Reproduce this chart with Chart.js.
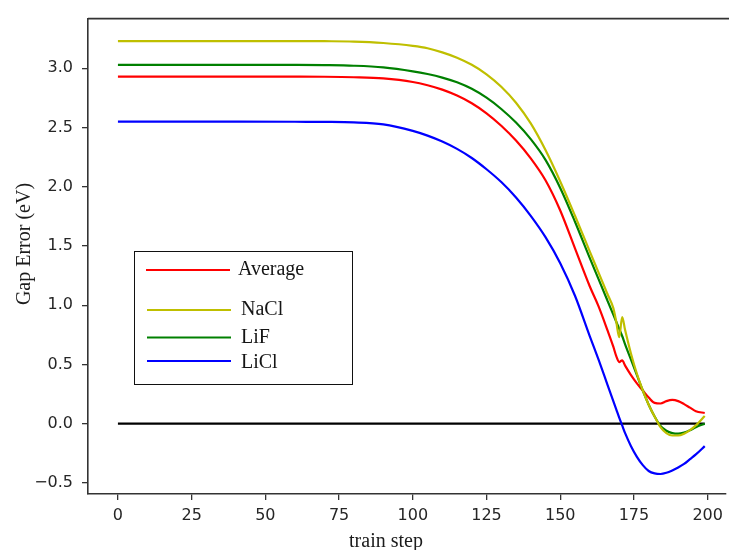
<!DOCTYPE html>
<html>
<head>
<meta charset="utf-8">
<script src="https://cdn.jsdelivr.net/npm/chart.js@4.4.0/dist/chart.umd.min.js"></script>
<style>
  html, body { margin: 0; padding: 0; background: #fff; }
  #wrap { width: 729px; height: 550px; }
</style>
</head>
<body>
<div id="wrap"><canvas id="gapChart" width="729" height="550"></canvas></div>
<script>
"use strict";

const steps = [
  0, 20, 40, 60, 70, 80, 90, 100,
  105, 110, 115, 120, 125, 130, 135, 140, 145, 150,
  155, 160, 163, 166, 168, 169, 170, 171, 172,
  174, 176, 178, 180, 182, 184, 186, 188, 190, 192, 194, 196, 199,
];

const averageGap = [
  2.93, 2.93, 2.93, 2.93, 2.929, 2.925, 2.915, 2.885,
  2.857, 2.82, 2.77, 2.705, 2.62, 2.515, 2.39, 2.24, 2.055, 1.80,
  1.48, 1.16, 0.99, 0.79, 0.65, 0.57, 0.52, 0.535, 0.49,
  0.41, 0.34, 0.28, 0.22, 0.175, 0.17, 0.19, 0.20, 0.19, 0.165, 0.135, 0.105, 0.09,
];
const naclGap = [
  3.23, 3.23, 3.23, 3.23, 3.229, 3.226, 3.214, 3.19,
  3.17, 3.135, 3.09, 3.03, 2.95, 2.845, 2.71, 2.535, 2.31, 2.045,
  1.755, 1.455, 1.275, 1.095, 0.975, 0.86, 0.73, 0.90, 0.79,
  0.59, 0.42, 0.28, 0.16, 0.06, -0.03, -0.08, -0.10, -0.10, -0.085, -0.055, -0.015, 0.065,
];
const lifGap = [
  3.03, 3.03, 3.03, 3.029, 3.027, 3.022, 3.008, 2.975,
  2.952, 2.922, 2.882, 2.827, 2.752, 2.657, 2.542, 2.402, 2.227, 1.99,
  1.705, 1.40, 1.22, 1.04, 0.92, 0.86, 0.80, 0.74, 0.67,
  0.54, 0.41, 0.28, 0.16, 0.06, -0.02, -0.06, -0.08, -0.085, -0.075, -0.055, -0.03, 0.0,
];
const liclGap = [
  2.55, 2.55, 2.55, 2.549, 2.548, 2.544, 2.527, 2.472,
  2.432, 2.382, 2.32, 2.243, 2.148, 2.04, 1.91, 1.755, 1.575, 1.355,
  1.08, 0.74, 0.54, 0.33, 0.19, 0.12, 0.05, -0.015, -0.08,
  -0.19, -0.28, -0.35, -0.40, -0.42, -0.425, -0.415, -0.395, -0.37, -0.34, -0.30, -0.26, -0.19,
];

// zero reference line
const zeroSteps = [0, 199];
const zeroGap = [0, 0];

const xTicks = [0, 25, 50, 75, 100, 125, 150, 175, 200];
const yTicks = [-0.5, 0, 0.5, 1.0, 1.5, 2.0, 2.5, 3.0];

const toPoints = (xs, ys) => xs.map((x, i) => ({ x: x, y: ys[i] }));
const fmt = (v) => v.toFixed(1).replace("-", "\u2212");

const serif = "'Liberation Serif', 'DejaVu Serif', serif";
const sans = "'DejaVu Sans', sans-serif";

// frame top line, axis titles and the boxed legend
const extras = {
  id: "extras",
  afterDraw(chart) {
    const c = chart.ctx;
    const a = chart.chartArea;
    c.save();
    c.strokeStyle = "#333";
    c.lineWidth = 1.6;
    c.beginPath();
    c.moveTo(a.left, a.top);
    c.lineTo(chart.width, a.top);
    c.stroke();

    c.fillStyle = "#1c1c1c";
    c.font = "20px " + serif;
    c.textAlign = "center";
    c.textBaseline = "alphabetic";
    c.fillText("train step", 386, 547);
    c.save();
    c.translate(30, 244);
    c.rotate(-Math.PI / 2);
    c.fillText("Gap Error (eV)", 0, 0);
    c.restore();

    // legend
    c.fillStyle = "#fff";
    c.fillRect(134.5, 251.5, 218, 133);
    c.strokeStyle = "#111";
    c.lineWidth = 1;
    c.strokeRect(134.5, 251.5, 218, 133);
    const rows = [
      { ds: 1, x1: 146, x2: 230, ly: 270, tx: 238, ty: 275 },
      { ds: 2, x1: 147, x2: 231, ly: 310, tx: 241, ty: 315 },
      { ds: 3, x1: 147, x2: 231, ly: 337.5, tx: 241, ty: 343 },
      { ds: 4, x1: 147, x2: 231, ly: 361, tx: 241, ty: 368 },
    ];
    c.textAlign = "left";
    rows.forEach((r) => {
      const ds = chart.data.datasets[r.ds];
      c.strokeStyle = ds.borderColor;
      c.lineWidth = 2.2;
      c.beginPath();
      c.moveTo(r.x1, r.ly);
      c.lineTo(r.x2, r.ly);
      c.stroke();
      c.fillStyle = "#151515";
      c.fillText(ds.label, r.tx, r.ty);
    });
    c.restore();
  },
};

const ctx = document.getElementById("gapChart");
const myChart = new Chart(ctx, {
  type: "line",
  data: {
    datasets: [
      {
        label: "zero",
        data: toPoints(zeroSteps, zeroGap),
        borderColor: "#000000",
        borderWidth: 2.2,
        order: 6,
      },
      {
        label: "Average",
        data: toPoints(steps, averageGap),
        borderColor: "#ff0000",
        order: 4,
      },
      {
        label: "NaCl",
        data: toPoints(steps, naclGap),
        borderColor: "#bfbf00",
        order: 2,
      },
      {
        label: "LiF",
        data: toPoints(steps, lifGap),
        borderColor: "#008000",
        order: 3,
      },
      {
        label: "LiCl",
        data: toPoints(steps, liclGap),
        borderColor: "#0000ff",
        order: 1,
      },
    ],
  },
  options: {
    responsive: false,
    animation: false,
    devicePixelRatio: 1,
    layout: { padding: { left: 0, top: 14, right: 2, bottom: 0 } },
    elements: {
      point: { radius: 0 },
      line: { borderWidth: 2.2, cubicInterpolationMode: "monotone", fill: false },
    },
    plugins: {
      legend: { display: false },
      tooltip: { enabled: false },
    },
    scales: {
      x: {
        type: "linear",
        min: -10.15,
        max: 206.1,
        afterFit: (s) => { s.height = 56; },
        afterBuildTicks: (s) => { s.ticks = xTicks.map((v) => ({ value: v })); },
        grid: { drawOnChartArea: false, drawTicks: true, tickLength: 6, color: "#333", lineWidth: 1.3 },
        border: { display: true, color: "#333", width: 1.6 },
        ticks: { color: "#262626", font: { family: sans, size: 16 }, padding: 6, maxRotation: 0 },
      },
      y: {
        type: "linear",
        min: -0.594,
        max: 3.42,
        afterFit: (s) => { s.width = 88; },
        afterBuildTicks: (s) => { s.ticks = yTicks.map((v) => ({ value: v })); },
        grid: { drawOnChartArea: false, drawTicks: true, tickLength: 6, color: "#333", lineWidth: 1.3 },
        border: { display: true, color: "#333", width: 1.6 },
        ticks: { color: "#262626", font: { family: sans, size: 16 }, padding: 9, callback: (v) => fmt(v) },
      },
    },
  },
  plugins: [extras],
});
</script>
</body>
</html>
